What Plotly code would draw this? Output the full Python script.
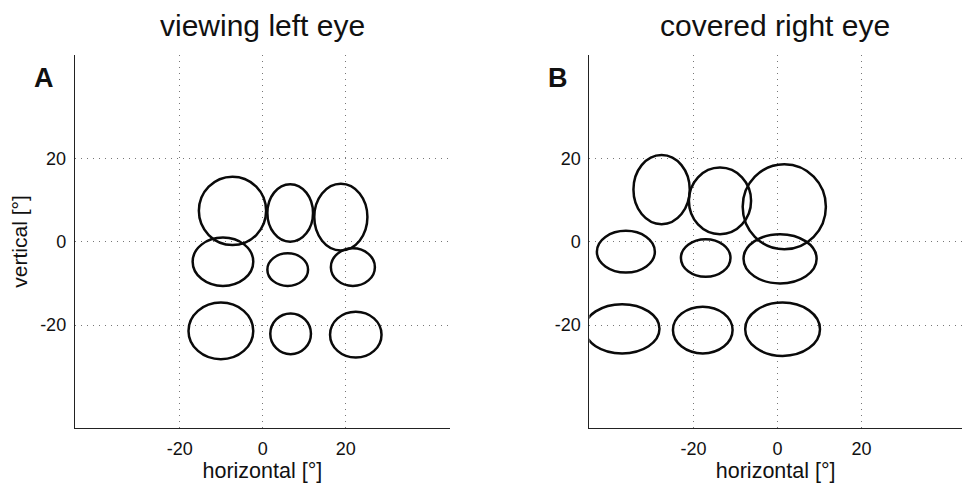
import plotly.graph_objects as go

# Panel A: viewing left eye  (centre x, centre y, half-width, half-height) in degrees
a_cx = [-7.3, 6.6, 18.8, -9.6, 6.0, 21.7, -10.1, 6.7, 22.4]
a_cy = [7.4, 6.9, 5.9, -4.8, -6.7, -6.1, -21.4, -22.1, -22.3]
a_rx = [8.1, 5.5, 6.4, 7.3, 4.9, 5.3, 7.8, 4.9, 6.2]
a_ry = [8.2, 6.9, 8.0, 5.8, 3.9, 4.5, 6.8, 4.9, 5.5]

# Panel B: covered right eye
b_cx = [-27.6, -13.7, 1.6, -36.1, -17.1, 0.6, -37.0, -17.8, 1.2]
b_cy = [12.5, 9.8, 8.4, -2.4, -3.9, -4.1, -20.9, -21.2, -21.0]
b_rx = [6.7, 7.4, 9.9, 6.9, 5.9, 8.7, 8.9, 7.1, 8.9]
b_ry = [8.3, 8.0, 10.2, 5.0, 4.5, 5.9, 5.9, 5.6, 6.4]

tick_vals = [-20, 0, 20]
tick_text = ["-20", "0", "20"]
titles = ["viewing left eye", "covered right eye"]
panel_labels = ["A", "B"]

FONT = "Liberation Sans, Arial, sans-serif"

fig = go.Figure()
# invisible traces to anchor axes
fig.add_trace(go.Scatter(x=a_cx, y=a_cy, mode="markers", marker=dict(opacity=0),
                         xaxis="x", yaxis="y", showlegend=False, hoverinfo="skip"))
fig.add_trace(go.Scatter(x=b_cx, y=b_cy, mode="markers", marker=dict(opacity=0),
                         xaxis="x2", yaxis="y2", showlegend=False, hoverinfo="skip"))

shapes = []
for cx, cy, rx, ry, xr, yr in [(a_cx, a_cy, a_rx, a_ry, "x", "y"),
                                (b_cx, b_cy, b_rx, b_ry, "x2", "y2")]:
    for i in range(len(cx)):
        shapes.append(dict(type="circle", xref=xr, yref=yr,
                           x0=cx[i] - rx[i], x1=cx[i] + rx[i],
                           y0=cy[i] - ry[i], y1=cy[i] + ry[i],
                           line=dict(color="#0a0a0a", width=2.5),
                           fillcolor="rgba(0,0,0,0)", layer="above"))

axis_common = dict(
    tickvals=tick_vals, ticktext=tick_text, showgrid=True,
    gridcolor="#777777", griddash="1px,5px", gridwidth=1,
    zeroline=False, showline=True, linecolor="#222222", linewidth=1,
    ticks="", tickfont=dict(family=FONT, size=18, color="#111111"),
    mirror=False,
)

fig.update_layout(
    width=962, height=483,
    margin=dict(l=0, r=0, t=0, b=0),
    paper_bgcolor="white", plot_bgcolor="white",
    font=dict(family=FONT, color="#111111"),
    xaxis=dict(domain=[0.0777, 0.4678], range=[-45.3, 45.1], anchor="y",
               title=dict(text="horizontal [°]", font=dict(size=21.5), standoff=4),
               ticklabelstandoff=4, **axis_common),
    yaxis=dict(domain=[0.1139, 0.8861], range=[-44.7, 44.8], anchor="x",
               title=dict(text="vertical [°]", font=dict(size=21), standoff=6),
               ticklabelstandoff=4, **axis_common),
    xaxis2=dict(domain=[0.6126, 1.0], range=[-44.8, 43.9], anchor="y2",
                title=dict(text="horizontal [°]", font=dict(size=21.5), standoff=4),
                ticklabelstandoff=4, **axis_common),
    yaxis2=dict(domain=[0.1139, 0.8861], range=[-44.7, 44.8], anchor="x2",
                ticklabelstandoff=4, **axis_common),
    shapes=shapes,
)

# titles
for txt, xc in zip(titles, [262, 775]):
    fig.add_annotation(text=txt, x=xc / 962, y=1 - 26 / 483, xref="paper", yref="paper",
                       showarrow=False, xanchor="center", yanchor="middle",
                       font=dict(family=FONT, size=30, color="#111111"))
# panel letters
for txt, xc in zip(panel_labels, [44, 558]):
    fig.add_annotation(text="<b>" + txt + "</b>", x=xc / 962, y=1 - 78 / 483,
                       xref="paper", yref="paper", showarrow=False,
                       xanchor="center", yanchor="middle",
                       font=dict(family=FONT, size=27, color="#111111"))

fig.write_html("out.html")
